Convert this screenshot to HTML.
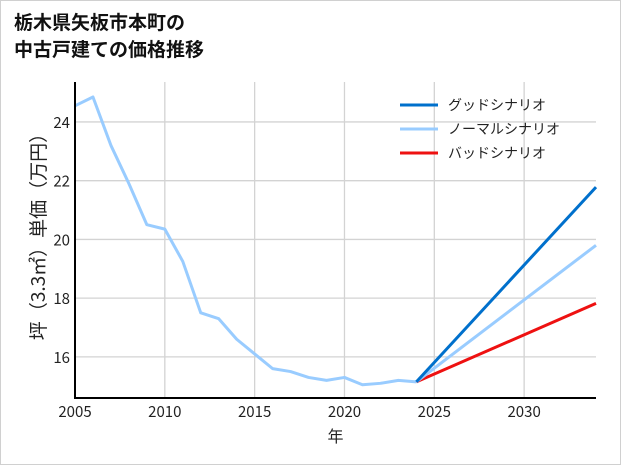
<!DOCTYPE html>
<html><head><meta charset="utf-8"><style>
body{margin:0;width:621px;height:465px;background:#fff;overflow:hidden;font-family:"Noto Sans CJK JP",sans-serif}
#frame{position:absolute;left:0;top:0;width:619px;height:463px;border:1px solid #d0d0d0}
</style></head><body>
<div id="frame"></div>
<svg id="chart" width="621" height="465" style="position:absolute;left:0;top:0">
<text x="14" y="29" font-size="19" font-weight="bold" fill="#111" font-family="Noto Sans CJK JP, sans-serif">栃木県矢板市本町の</text>
<text x="14" y="56" font-size="19" font-weight="bold" fill="#111" font-family="Noto Sans CJK JP, sans-serif">中古戸建ての価格推移</text>
<g id="grid"></g><g id="series"></g><g id="axes"></g><g id="legend"></g>
</svg>
<script>
const histYears=[2005,2006,2007,2008,2009,2010,2011,2012,2013,2014,2015,2016,2017,2018,2019,2020,2021,2022,2023,2024];
const histValues=[24.55,24.85,23.2,21.9,20.5,20.35,19.25,17.5,17.3,16.6,16.1,15.6,15.5,15.3,15.2,15.3,15.05,15.1,15.2,15.15];
const scenarioYears=[2024,2034];
const goodValues=[15.15,21.78];
const normalValues=[15.15,19.8];
const badValues=[15.15,17.82];
const xTicks=[2005,2010,2015,2020,2025,2030];
const yTicks=[16,18,20,22,24];
const legendLabels=["グッドシナリオ","ノーマルシナリオ","バッドシナリオ"];
const legendColors=["#0070cc","#99ccff","#ee1111"];

const L=75,R=596,T=82,B=398;
const x0=2005,x1=2034,y0=14.6,y1=25.36;
const X=v=>L+(v-x0)/(x1-x0)*(R-L);
const Y=v=>B-(v-y0)/(y1-y0)*(B-T);
const NS="http://www.w3.org/2000/svg";
function mk(t,a,p){const e=document.createElementNS(NS,t);for(const k in a)e.setAttribute(k,a[k]);p.appendChild(e);return e;}
const grid=document.getElementById('grid'),series=document.getElementById('series'),axes=document.getElementById('axes'),legend=document.getElementById('legend');
const font='Noto Sans CJK JP, sans-serif';
xTicks.forEach(t=>{
 const l=mk('line',{x1:X(t),x2:X(t),y1:T,y2:B,stroke:'#d3d3d3','stroke-width':1.3},grid);
 
 
 const tx=mk('text',{x:X(t),y:B+19,'font-size':15,'text-anchor':'middle',fill:'#222','font-family':font},axes);
 tx.textContent=t;
 
 
});
yTicks.forEach(t=>{
 const l=mk('line',{x1:L,x2:R,y1:Y(t),y2:Y(t),stroke:'#d3d3d3','stroke-width':1.3},grid);
 
 
 const tx=mk('text',{x:L-5,y:Y(t)+6,'font-size':15,'text-anchor':'end',fill:'#222','font-family':font},axes);
 tx.textContent=t;
 
 
});
function line(xs,ys,c,name){
 const p=mk('polyline',{points:xs.map((x,i)=>X(x)+','+Y(ys[i])).join(' '),fill:'none',stroke:c,'stroke-width':3,'stroke-linejoin':'round'},series);
 
 
}
line(histYears,histValues,'#99ccff','historical-line');
line(scenarioYears,badValues,legendColors[2],'bad-scenario-line');
line(scenarioYears,normalValues,legendColors[1],'normal-scenario-line');
line(scenarioYears,goodValues,legendColors[0],'good-scenario-line');
const ax=mk('path',{d:`M${L},${T} V${B} H${R}`,fill:'none',stroke:'#000','stroke-width':2},axes);


const xt=mk('text',{x:(L+R)/2,y:442,'font-size':16,'text-anchor':'middle',fill:'#222','font-family':font},axes);
xt.textContent='年';


const yt=mk('text',{x:0,y:0,'font-size':19,'text-anchor':'middle',fill:'#222','font-family':font,transform:`translate(45,232) rotate(-90)`},axes);
yt.textContent='坪（3.3㎡）単価（万円）';


legendLabels.forEach((s,i)=>{
 const y=105+i*24;
 const l=mk('line',{x1:400,x2:438,y1:y,y2:y,stroke:legendColors[i],'stroke-width':3},legend);
 
 
 const t=mk('text',{x:448,y:y+5,'font-size':14,fill:'#222','font-family':font},legend);
 t.textContent=s;
 
 
});
</script>
</body></html>
